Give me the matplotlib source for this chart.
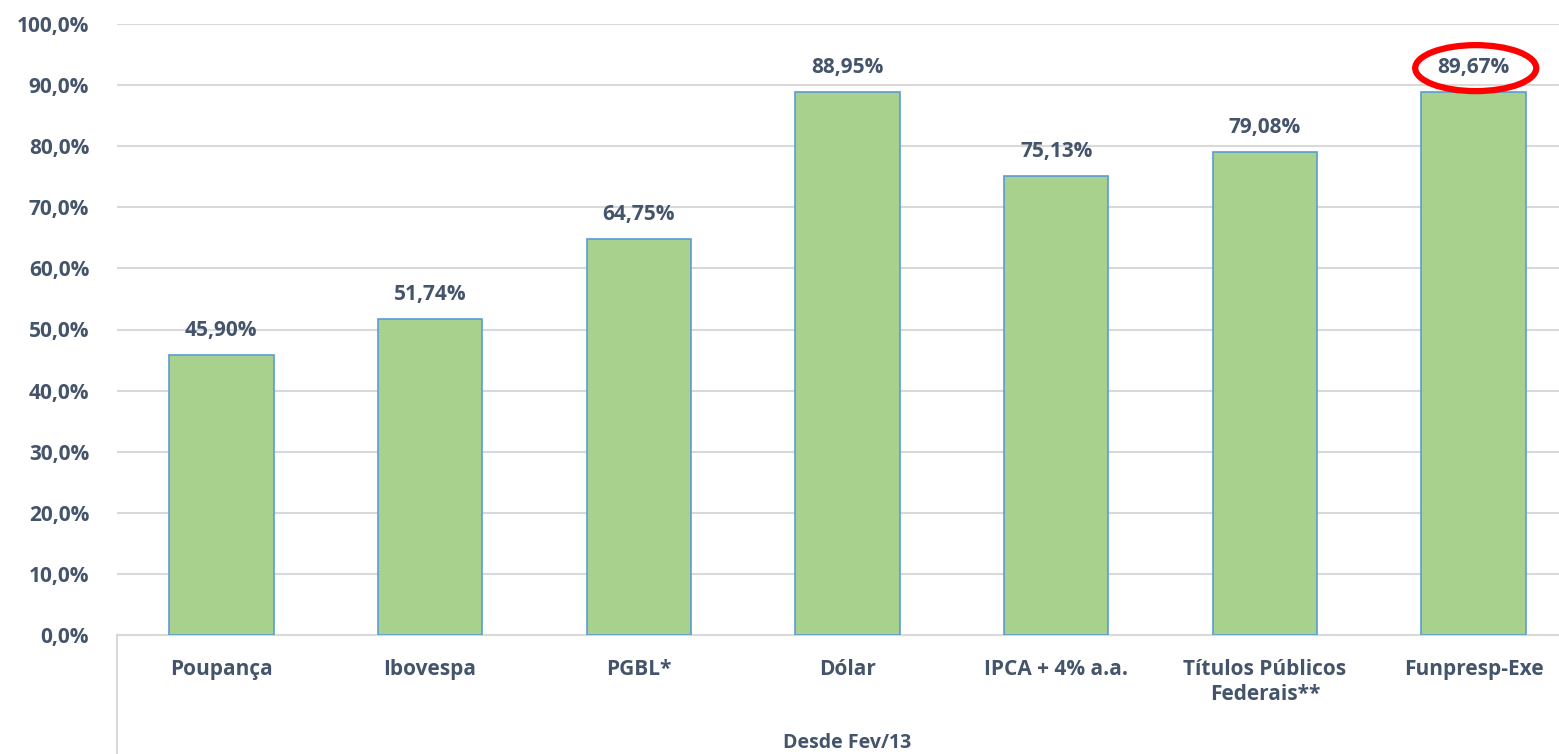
import numpy as np
import matplotlib.pyplot as plt
from matplotlib.patches import Ellipse

categories = ["Poupança", "Ibovespa", "PGBL*", "Dólar", "IPCA + 4% a.a.",
              "Títulos Públicos\nFederais**", "Funpresp-Exe"]
# bar heights as drawn; the last bar sits a little below its printed label
values = [45.90, 51.74, 64.75, 88.95, 75.13, 79.08, 88.85]
value_labels = ["45,90%", "51,74%", "64,75%", "88,95%", "75,13%", "79,08%", "89,67%"]
group_label = "Desde Fev/13"
highlight = 6

text_color = "#44546A"
grid_color = "#D9D9D9"
plt.rcParams["font.family"] = ["Open Sans", "DejaVu Sans"]
plt.rcParams["font.weight"] = "bold"

fig = plt.figure(figsize=(15.59, 7.54), dpi=100)
ax = fig.add_axes([117 / 1559, 119 / 754, 1461 / 1559, 611 / 754])

x = np.arange(len(categories))
ax.bar(x, values, width=0.5, color="#A9D18E", edgecolor="#5B9BD5",
       linewidth=1.2, zorder=3)

for xi, v, lab in zip(x, values, value_labels):
    ax.annotate(lab, (xi, v), xytext=(0, 10),
                textcoords="offset points", ha="center", va="bottom",
                fontsize=15, fontweight="bold", color=text_color)

# red ring around the highlighted label
px_y = 10 / 61.1
ell = Ellipse((highlight + 0.01, values[highlight] + 24 * px_y), 0.58, 46 * px_y,
              fill=False, edgecolor="#FF0000", linewidth=4.5, zorder=5, clip_on=False)
ax.add_patch(ell)

ax.set_xlim(-0.5, len(categories) - 0.5)
ax.set_ylim(0, 100)
ticks = np.arange(0, 101, 10)
ax.set_yticks(ticks)
ax.set_yticklabels([f"{t:.1f}%".replace(".", ",") for t in ticks])
ax.set_xticks(x)
ax.set_xticklabels(categories, linespacing=1.25)
ax.tick_params(axis="y", length=0, pad=20, labelsize=15, labelcolor=text_color)
ax.tick_params(axis="x", length=0, pad=17, labelsize=15, labelcolor=text_color)
for lab in ax.get_xticklabels() + ax.get_yticklabels():
    lab.set_fontweight("bold")

ax.grid(axis="y", color=grid_color, linewidth=1.5, zorder=0)
for s in ["top", "right", "left"]:
    ax.spines[s].set_visible(False)
ax.spines["bottom"].set_color(grid_color)
ax.spines["bottom"].set_linewidth(1.5)

# multi-level category axis
ax.plot([0, 0], [0, -0.2], transform=ax.transAxes, color=grid_color,
        linewidth=1.5, clip_on=False)
ax.text((847 - 117) / 1461, -108 / 611, group_label,
        transform=ax.transAxes, ha="center", va="center", fontsize=14,
        fontweight="bold", color=text_color)

fig.savefig("out.png", dpi=100)
